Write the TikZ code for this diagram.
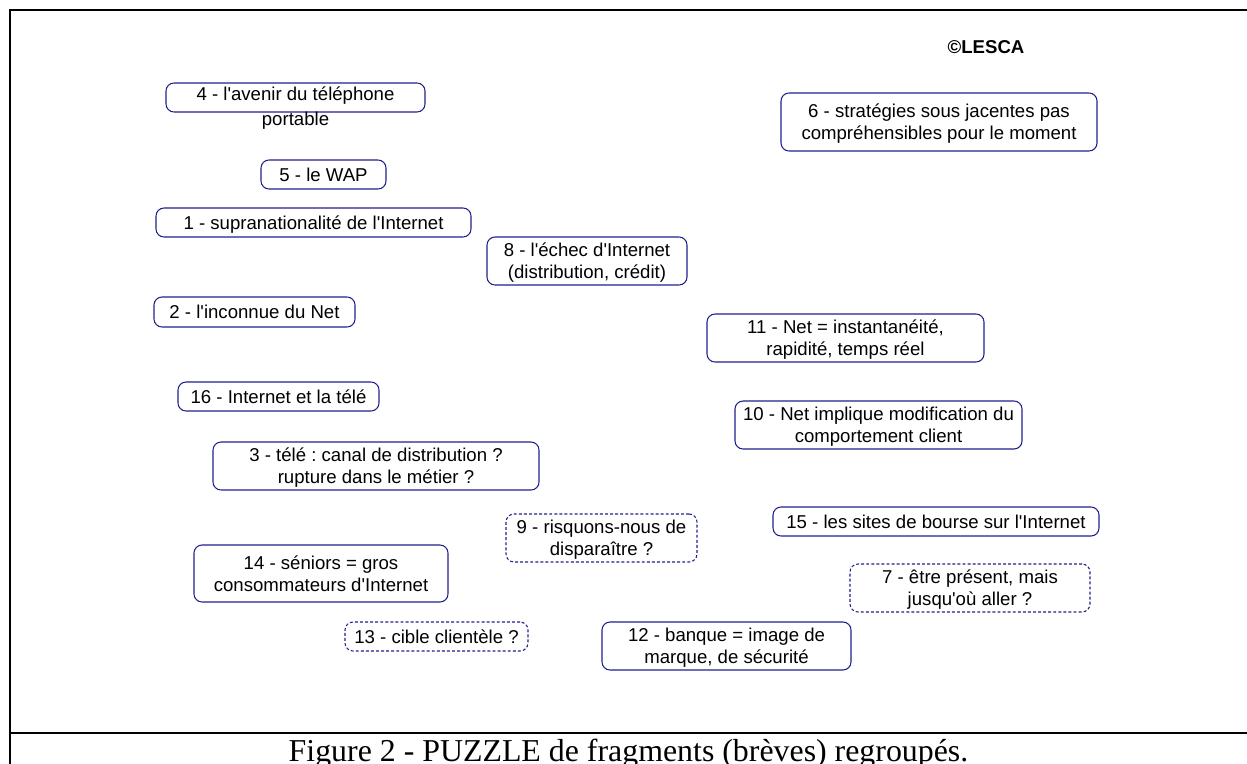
\documentclass[tikz,border=0pt]{standalone}
\usepackage{fontspec}
\setmainfont{Liberation Sans}[Ligatures=TeXOff]
\newfontfamily\capfont{Liberation Serif}
\definecolor{boxblue}{RGB}{32,32,140}
\frenchspacing
\begin{document}
\begin{tikzpicture}[x=0.75pt,y=-0.75pt,
  frag/.style={draw=boxblue, line width=0.8pt, rounded corners=6pt, inner sep=0pt,
    align=center, font=\fontsize{13.95pt}{16.5pt}\selectfont,
    text height=12.5pt, text depth=2.7pt},
  two/.style={text height=29pt, text depth=2.75pt},
  dfrag/.style={frag, dash pattern=on 2.2pt off 1.6pt},
  wh/.style n args={2}{minimum width=#1*0.75pt, minimum height=#2*0.75pt},
  frame/.style={line width=1.5pt, line cap=rect}]
\useasboundingbox (0,0) rectangle (1247,764);
\clip (0,0) rectangle (1247,764);
% frame
\coordinate (fbl) at (10,764);
\coordinate (ftl) at (10,10);
\coordinate (ftr) at (1247,10);
\coordinate (fml) at (10,732.5);
\coordinate (fmr) at (1247,732.5);
\draw[frame] (fbl) -- (ftl) -- (ftr);
\draw[frame] (fml) -- (fmr);
% copyright
\node[anchor=base, inner sep=0pt, font=\fontsize{13.95pt}{16.5pt}\selectfont\bfseries] (lesca) at (986,53.3) {©LESCA};
% fragments
\node[frag, wh={259}{29}, text depth=7.7pt] (f4) at (295.5,97.5) {4 - l'avenir du téléphone};
\node[anchor=base, inner sep=0pt, font=\fontsize{13.95pt}{16.5pt}\selectfont] (f4b) at (295.5,125) {portable};
\node[frag, wh={125}{29}] (f5) at (323.5,174.5) {5 - le WAP};
\node[frag, wh={315}{29}] (f1) at (313.5,222.5) {1 - supranationalité de l'Internet};
\node[frag, two, wh={200}{48}] (f8) at (587,261) {8 - l'échec d'Internet\\(distribution, crédit)};
\node[frag, two, wh={316}{58}] (f6) at (939,122) {6 - stratégies sous jacentes pas\\compréhensibles pour le moment};
\node[frag, wh={201}{30}] (f2) at (254.5,312) {2 - l'inconnue du Net};
\node[frag, wh={201}{29}] (f16) at (278.5,396.5) {16 - Internet et la télé};
\node[frag, two, wh={326}{48}] (f3) at (376,466) {3 - télé : canal de distribution ?\\rupture dans le métier ?};
\node[frag, two, wh={277}{48}] (f11) at (845.5,338) {11 - Net = instantanéité,\\rapidité, temps réel};
\node[frag, two, wh={287}{48}] (f10) at (878.5,425) {10 - Net implique modification du\\comportement client};
\node[frag, wh={326}{29}] (f15) at (936,521.5) {15 - les sites de bourse sur l'Internet};
\node[dfrag, two, wh={191}{48}] (f9) at (601.5,538) {9 - risquons-nous de\\disparaître ?};
\node[frag, two, wh={254}{57}] (f14) at (321,573.5) {14 - séniors = gros\\consommateurs d'Internet};
\node[dfrag, wh={183}{29}] (f13) at (436.5,636.5) {13 - cible clientèle ?};
\node[frag, two, wh={249}{48}] (f12) at (726.5,646) {12 - banque = image de\\marque, de sécurité};
\node[dfrag, two, wh={240}{48}] (f7) at (970,588) {7 - être présent, mais\\jusqu'où aller ?};
% caption
\node[anchor=base, inner sep=0pt, font=\capfont\fontsize{23.9pt}{28pt}\selectfont] (cap) at (628.5,761) {Figure 2 - PUZZLE de fragments (brèves) regroupés.};
\end{tikzpicture}
\end{document}
